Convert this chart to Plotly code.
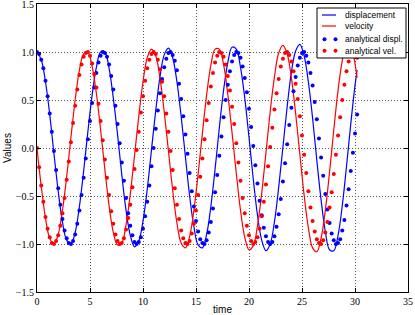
import plotly.graph_objects as go

# ---------------- data ----------------
t_analytical = [
    0.0, 0.2, 0.4, 0.6, 0.8, 1.0, 1.2, 1.4, 1.6, 1.8, 2.0, 2.2, 2.4, 2.6, 2.8, 3.0,
    3.2, 3.4, 3.6, 3.8, 4.0, 4.2, 4.4, 4.6, 4.8, 5.0, 5.2, 5.4, 5.6, 5.8, 6.0, 6.2,
    6.4, 6.6, 6.8, 7.0, 7.2, 7.4, 7.6, 7.8, 8.0, 8.2, 8.4, 8.6, 8.8, 9.0, 9.2, 9.4,
    9.6, 9.8, 10.0, 10.2, 10.4, 10.6, 10.8, 11.0, 11.2, 11.4, 11.6, 11.8, 12.0, 12.2,
    12.4, 12.6, 12.8, 13.0, 13.2, 13.4, 13.6, 13.8, 14.0, 14.2, 14.4, 14.6, 14.8, 15.0,
    15.2, 15.4, 15.6, 15.8, 16.0, 16.2, 16.4, 16.6, 16.8, 17.0, 17.2, 17.4, 17.6, 17.8,
    18.0, 18.2, 18.4, 18.6, 18.8, 19.0, 19.2, 19.4, 19.6, 19.8, 20.0, 20.2, 20.4, 20.6,
    20.8, 21.0, 21.2, 21.4, 21.6, 21.8, 22.0, 22.2, 22.4, 22.6, 22.8, 23.0, 23.2, 23.4,
    23.6, 23.8, 24.0, 24.2, 24.4, 24.6, 24.8, 25.0, 25.2, 25.4, 25.6, 25.8, 26.0, 26.2,
    26.4, 26.6, 26.8, 27.0, 27.2, 27.4, 27.6, 27.8, 28.0, 28.2, 28.4, 28.6, 28.8, 29.0,
    29.2, 29.4, 29.6, 29.8, 30.0, 30.2,
]

analytical_displ = [
    1.00, 0.98, 0.92, 0.83, 0.70, 0.54, 0.36, 0.17, -0.03, -0.23, -0.42, -0.59, -0.74, -0.86, -0.94, -0.99,
    -1.00, -0.97, -0.90, -0.79, -0.65, -0.49, -0.31, -0.11, 0.09, 0.28, 0.47, 0.63, 0.78, 0.89, 0.96, 1.00,
    0.99, 0.95, 0.87, 0.75, 0.61, 0.44, 0.25, 0.05, -0.15, -0.34, -0.52, -0.68, -0.81, -0.91, -0.98, -1.00,
    -0.98, -0.93, -0.84, -0.71, -0.56, -0.39, -0.19, 0.00, 0.20, 0.39, 0.57, 0.72, 0.84, 0.93, 0.99,
    1.00, 0.97, 0.91, 0.81, 0.67, 0.51, 0.33, 0.14, -0.06, -0.26, -0.45, -0.61, -0.76, -0.87, -0.95, -0.99,
    -1.00, -0.96, -0.88, -0.77, -0.63, -0.46, -0.28, -0.08, 0.12, 0.32, 0.50, 0.66, 0.80, 0.90, 0.97, 1.00,
    0.99, 0.94, 0.85, 0.73, 0.58, 0.41, 0.22, 0.02, -0.18, -0.37, -0.55, -0.70, -0.83, -0.92, -0.98, -1.00,
    -0.98, -0.92, -0.82, -0.69, -0.53, -0.35, -0.16, 0.04, 0.24, 0.42, 0.59, 0.74, 0.86, 0.94, 0.99,
    1.00, 0.96, 0.89, 0.78, 0.65, 0.48, 0.30, 0.10, -0.10, -0.29, -0.48, -0.64, -0.78, -0.89, -0.96, -1.00,
    -0.99, -0.95, -0.86, -0.75, -0.60, -0.43, -0.24, -0.05, 0.15, 0.35,
]

analytical_vel = [
    0.00, -0.20, -0.39, -0.56, -0.72, -0.84, -0.93, -0.99, -1.00, -0.97, -0.91, -0.81, -0.68, -0.52, -0.33, -0.14,
    0.06, 0.26, 0.44, 0.61, 0.76, 0.87, 0.95, 0.99, 1.00, 0.96, 0.88, 0.77, 0.63, 0.46, 0.28, 0.08,
    -0.12, -0.31, -0.49, -0.66, -0.79, -0.90, -0.97, -1.00, -0.99, -0.94, -0.85, -0.73, -0.59, -0.41, -0.22, -0.02,
    0.17, 0.37, 0.54, 0.70, 0.83, 0.92, 0.98, 1.00, 0.98, 0.92, 0.82, 0.69, 0.54, 0.36, 0.17,
    -0.03, -0.23, -0.42, -0.59, -0.74, -0.86, -0.94, -0.99, -1.00, -0.97, -0.89, -0.79, -0.65, -0.49, -0.30, -0.11,
    0.09, 0.29, 0.47, 0.64, 0.78, 0.89, 0.96, 1.00, 0.99, 0.95, 0.87, 0.75, 0.60, 0.43, 0.25, 0.05,
    -0.15, -0.34, -0.52, -0.68, -0.81, -0.91, -0.97, -1.00, -0.98, -0.93, -0.84, -0.71, -0.56, -0.38, -0.19, 0.01,
    0.21, 0.40, 0.57, 0.72, 0.85, 0.93, 0.99, 1.00, 0.97, 0.90, 0.80, 0.67, 0.51, 0.33, 0.13,
    -0.07, -0.26, -0.45, -0.62, -0.76, -0.87, -0.95, -0.99, -1.00, -0.96, -0.88, -0.77, -0.62, -0.46, -0.27, -0.07,
    0.13, 0.32, 0.50, 0.66, 0.80, 0.90, 0.97, 1.00, 0.99, 0.94,
]

t_numerical = [
    0.0, 0.4, 0.8, 1.2, 1.6, 2.0, 2.4, 2.8, 3.2, 3.6, 4.0, 4.4, 4.8, 5.2, 5.6, 6.0,
    6.4, 6.8, 7.2, 7.6, 8.0, 8.4, 8.8, 9.2, 9.6, 10.0, 10.4, 10.8, 11.2, 11.6, 12.0,
    12.4, 12.8, 13.2, 13.6, 14.0, 14.4, 14.8, 15.2, 15.6, 16.0, 16.4, 16.8, 17.2, 17.6, 18.0, 18.4,
    18.8, 19.2, 19.6, 20.0, 20.4, 20.8, 21.2, 21.6, 22.0, 22.4, 22.8, 23.2, 23.6, 24.0, 24.4,
    24.8, 25.2, 25.6, 26.0, 26.4, 26.8, 27.2, 27.6, 28.0, 28.4, 28.8, 29.2, 29.6, 30.0, 30.2,
]

displacement = [
    1.00, 0.92, 0.69, 0.35, -0.06, -0.45, -0.77, -0.96, -1.00, -0.88, -0.61, -0.24, 0.17, 0.55, 0.84, 1.00,
    1.00, 0.83, 0.52, 0.14, -0.28, -0.65, -0.91, -1.03, -0.97, -0.76, -0.43, -0.02, 0.39, 0.74, 0.97,
    1.04, 0.94, 0.69, 0.33, -0.09, -0.50, -0.82, -1.01, -1.04, -0.90, -0.61, -0.22, 0.21, 0.60, 0.89, 1.05,
    1.03, 0.84, 0.52, 0.11, -0.32, -0.70, -0.96, -1.07, -1.00, -0.77, -0.41, 0.01, 0.43, 0.79, 1.01,
    1.08, 0.96, 0.69, 0.31, -0.13, -0.54, -0.87, -1.06, -1.07, -0.91, -0.60, -0.19, 0.25, 0.65, 0.81,
]

velocity = [
    0.00, -0.40, -0.73, -0.94, -1.00, -0.90, -0.65, -0.30, 0.11, 0.50, 0.81, 0.98, 1.00, 0.85, 0.57, 0.19,
    -0.22, -0.60, -0.88, -1.01, -0.99, -0.80, -0.48, -0.08, 0.33, 0.69, 0.94, 1.03, 0.96, 0.73, 0.38,
    -0.03, -0.44, -0.78, -0.99, -1.04, -0.92, -0.65, -0.27, 0.15, 0.55, 0.86, 1.03, 1.03, 0.87, 0.56, 0.16,
    -0.26, -0.65, -0.93, -1.06, -1.02, -0.81, -0.47, -0.05, 0.38, 0.74, 0.99, 1.07, 0.98, 0.73, 0.36,
    -0.07, -0.49, -0.83, -1.04, -1.08, -0.94, -0.65, -0.25, 0.19, 0.60, 0.91, 1.08, 1.07, 0.88, 0.73,
]

series_names = ["displacement", "velocity", "analytical displ.", "analytical vel."]

x_tick_vals = [0, 5, 10, 15, 20, 25, 30, 35]
x_tick_text = ["0", "5", "10", "15", "20", "25", "30", "35"]
y_tick_vals = [-1.5, -1.0, -0.5, 0.0, 0.5, 1.0, 1.5]
y_tick_text = ["\u22121.5", "\u22121.0", "\u22120.5", "0.0", "0.5", "1.0", "1.5"]

BLUE = "#0000ff"
RED = "#ff0000"

W, H = 415, 315
ML, MR, MT, MB = 37, 7, 4, 23
PW, PH = W - ML - MR, H - MT - MB


def px(xp):
    return (xp - ML) / PW


def py(yp):
    return (H - MB - yp) / PH


fig = go.Figure()
fig.add_trace(go.Scatter(x=t_numerical, y=displacement, mode="lines", name=series_names[0],
                         line=dict(color=BLUE, width=1.2, shape="spline")))
fig.add_trace(go.Scatter(x=t_numerical, y=velocity, mode="lines", name=series_names[1],
                         line=dict(color=RED, width=1.2, shape="spline")))
fig.add_trace(go.Scatter(x=t_analytical, y=analytical_displ, mode="markers", name=series_names[2],
                         marker=dict(color=BLUE, size=4, line=dict(width=0))))
fig.add_trace(go.Scatter(x=t_analytical, y=analytical_vel, mode="markers", name=series_names[3],
                         marker=dict(color=RED, size=4, line=dict(width=0))))

axis_common = dict(
    showline=True, linecolor="black", linewidth=1, mirror="ticks",
    ticks="inside", ticklen=4, tickcolor="black", tickwidth=1,
    showgrid=True, gridcolor="#555555", griddash="1px,2px", gridwidth=1,
    zeroline=False, automargin=False, ticklabeloverflow="allow",
    tickfont=dict(family="Liberation Serif", size=10, color="black"),
)

# ---- legend drawn as a matplotlib-style box (compact entries) ----
shapes = [dict(type="rect", xref="paper", yref="paper",
               x0=px(317), x1=px(406), y0=py(58), y1=py(8),
               fillcolor="white", line=dict(color="black", width=1), layer="above")]
annotations = []
entry_y = [15, 26, 39.3, 50.7]
entry_col = [BLUE, RED, BLUE, RED]
for i, name in enumerate(series_names):
    yy = py(entry_y[i])
    if i < 2:
        shapes.append(dict(type="line", xref="paper", yref="paper",
                           x0=px(322), x1=px(336), y0=yy, y1=yy,
                           line=dict(color=entry_col[i], width=1.2), layer="above"))
    else:
        for xc in (324.5, 335.5):
            shapes.append(dict(type="circle", xref="paper", yref="paper",
                               xsizemode="pixel", ysizemode="pixel",
                               xanchor=px(xc), yanchor=yy, x0=-2, x1=2, y0=-2, y1=2,
                               fillcolor=entry_col[i], line=dict(width=0), layer="above"))
    annotations.append(dict(xref="paper", yref="paper", x=px(343), y=yy,
                            xanchor="left", yanchor="middle", showarrow=False, text=name,
                            font=dict(family="Liberation Sans", size=8.5, color="black")))

fig.update_layout(
    width=W, height=H,
    margin=dict(l=ML, r=MR, t=MT, b=MB),
    paper_bgcolor="white", plot_bgcolor="white",
    xaxis=dict(range=[0, 35], tickmode="array", tickvals=x_tick_vals, ticktext=x_tick_text,
               title=dict(text="time", font=dict(family="Liberation Sans", size=10, color="black"), standoff=2),
               **axis_common),
    yaxis=dict(range=[-1.5, 1.5], tickmode="array", tickvals=y_tick_vals, ticktext=y_tick_text,
               title=dict(text="Values", font=dict(family="Liberation Sans", size=10, color="black"), standoff=2),
               **axis_common),
    showlegend=False,
    shapes=shapes,
    annotations=annotations,
)

fig.write_html("out.html", config={"displayModeBar": False},
               post_script="document.body.style.margin='0px';document.body.style.overflow='hidden';")
